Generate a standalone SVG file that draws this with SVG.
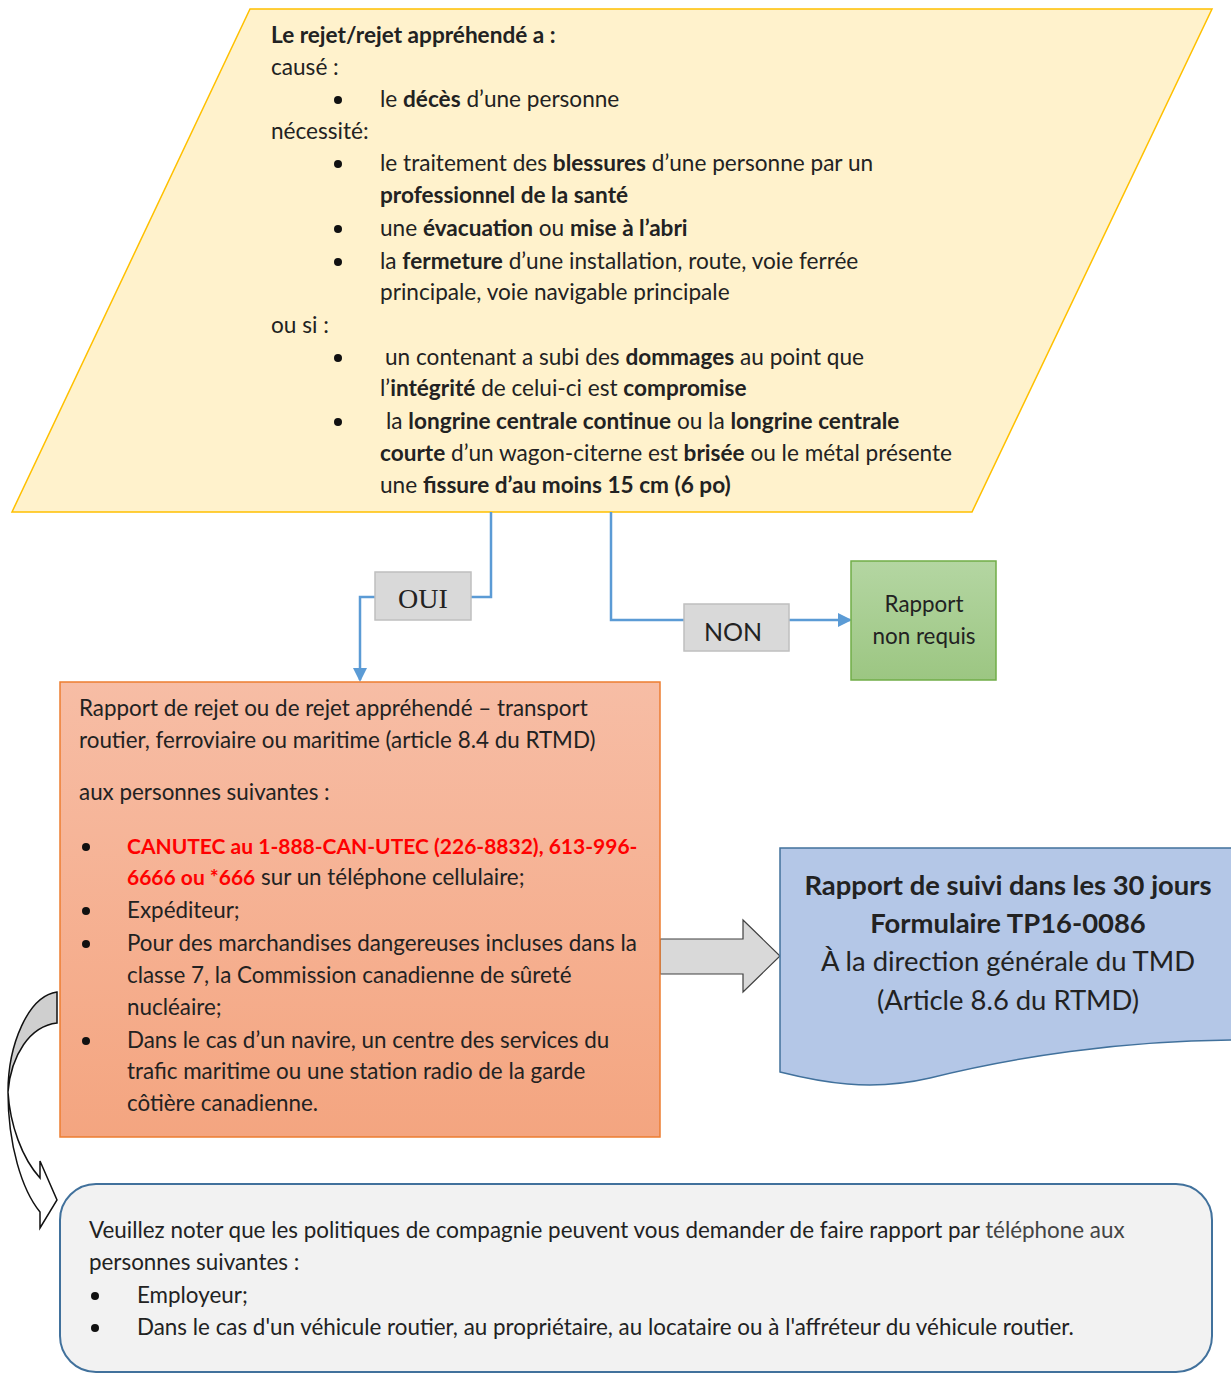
<svg xmlns="http://www.w3.org/2000/svg" width="1231" height="1374" viewBox="0 0 1231 1374">
<defs>
<style>
text{font-family:Lato,"Open Sans","Liberation Sans",sans-serif;fill:#222;}
.t20{font-size:22.6px;}
.t21{font-size:22.4px;}
.tn{font-size:22.4px;}
.b{font-weight:bold;}
.red{fill:#FF0000;font-weight:bold;font-size:21px;}
.conn{fill:none;stroke:#5B9BD5;stroke-width:2.5;}
.lbl{fill:#D9D9D9;stroke:#BFBFBF;stroke-width:1.5;}
.dot{fill:#111;}
</style>
<linearGradient id="gGreen" x1="0" y1="0" x2="0" y2="1"><stop offset="0" stop-color="#B4D6A2"/><stop offset="1" stop-color="#9CC682"/></linearGradient>
<linearGradient id="gOrange" x1="0" y1="0" x2="0" y2="1"><stop offset="0" stop-color="#F7BDA5"/><stop offset="1" stop-color="#F4A580"/></linearGradient>
<marker id="ah" markerWidth="14" markerHeight="14" refX="12" refY="7" orient="auto" markerUnits="userSpaceOnUse"><path d="M0,0 L14,7 L0,14 Z" fill="#5B9BD5"/></marker>
</defs>

<g id="decision">
<polygon points="250,9 1212,9 972,512 12,512" fill="#FFF2CC" stroke="#FFC000" stroke-width="1.5"/>
<g class="t20">
<text x="271" y="43" class="b">Le rejet/rejet appréhendé a :</text>
<text x="271" y="75">causé :</text>
<circle class="dot" cx="338" cy="100" r="4"/>
<text x="380" y="107">le <tspan class="b">décès</tspan> d’une personne</text>
<text x="271" y="139">nécessité:</text>
<circle class="dot" cx="338" cy="164" r="4"/>
<text x="380" y="171">le traitement des <tspan class="b">blessures</tspan> d’une personne par un</text>
<text x="380" y="203" class="b">professionnel de la santé</text>
<circle class="dot" cx="338" cy="229" r="4"/>
<text x="380" y="236">une <tspan class="b">évacuation</tspan> ou <tspan class="b">mise à l’abri</tspan></text>
<circle class="dot" cx="338" cy="262" r="4"/>
<text x="380" y="269">la <tspan class="b">fermeture</tspan> d’une installation, route, voie ferrée</text>
<text x="380" y="300">principale, voie navigable principale</text>
<text x="271" y="333">ou si :</text>
<circle class="dot" cx="338" cy="358" r="4"/>
<text x="385" y="365">un contenant a subi des <tspan class="b">dommages</tspan> au point que</text>
<text x="380" y="396">l’<tspan class="b">intégrité</tspan> de celui-ci est <tspan class="b">compromise</tspan></text>
<circle class="dot" cx="338" cy="422" r="4"/>
<text x="386" y="429">la <tspan class="b">longrine centrale continue</tspan> ou la <tspan class="b">longrine centrale</tspan></text>
<text x="380" y="461"><tspan class="b">courte</tspan> d’un wagon-citerne est <tspan class="b">brisée</tspan> ou le métal présente</text>
<text x="380" y="493">une <tspan class="b">fissure d’au moins 15 cm (6 po)</tspan></text>
</g>
</g>

<g id="connectors">
<polyline class="conn" points="491,512 491,597 471,597"/>
<polyline class="conn" points="375,597 360,597 360,680" marker-end="url(#ah)"/>
<polyline class="conn" points="611,512 611,620 684,620"/>
<polyline class="conn" points="789,620 850,620" marker-end="url(#ah)"/>
<path d="M660,939 H743 V920 L780,956 L743,992 V974 H660 Z" fill="#D9D9D9" stroke="#404040" stroke-width="1.2"/>
<path d="M57,992 C28,996 8,1045 8,1092 C11,1055 30,1026 57,1023 Z" fill="#CFCFCF" stroke="#111" stroke-width="1.5"/>
<path d="M8,1092 C8,1145 22,1190 40,1212 L40,1228 L57,1200 L40,1161 L40,1178 C22,1158 10,1125 8,1092 Z" fill="#FFFFFF" stroke="#111" stroke-width="1.5"/>
</g>

<g id="label-oui">
<rect class="lbl" x="375" y="572" width="96" height="48"/>
<text x="423" y="608" text-anchor="middle" style="font-family:'Liberation Serif',serif;font-size:28px">OUI</text>
</g>
<g id="label-non">
<rect class="lbl" x="684" y="604" width="105" height="47"/>
<text x="733" y="641" text-anchor="middle" style="font-size:25px">NON</text>
</g>

<g id="node-nonrequis">
<rect x="851" y="561" width="145" height="119" fill="url(#gGreen)" stroke="#70AD47" stroke-width="1.5"/>
<text x="924" y="612" text-anchor="middle" class="tn">Rapport</text>
<text x="924" y="644" text-anchor="middle" class="tn">non requis</text>
</g>

<g id="node-rapport">
<rect x="60" y="682" width="600" height="455" fill="url(#gOrange)" stroke="#ED7D31" stroke-width="1.5"/>
<g class="t21">
<text x="79" y="716">Rapport de rejet ou de rejet appréhendé – transport</text>
<text x="79" y="748">routier, ferroviaire ou maritime (article 8.4 du RTMD)</text>
<text x="79" y="800">aux personnes suivantes :</text>
<circle class="dot" cx="86" cy="847" r="4"/>
<text x="127" y="854" class="red">CANUTEC au 1-888-CAN-UTEC (226-8832), 613-996-</text>
<text x="127" y="885"><tspan class="red">6666 ou *666</tspan> sur un téléphone cellulaire;</text>
<circle class="dot" cx="86" cy="911" r="4"/>
<text x="127" y="918">Expéditeur;</text>
<circle class="dot" cx="86" cy="944" r="4"/>
<text x="127" y="951">Pour des marchandises dangereuses incluses dans la</text>
<text x="127" y="983">classe 7, la Commission canadienne de sûreté</text>
<text x="127" y="1015">nucléaire;</text>
<circle class="dot" cx="86" cy="1041" r="4"/>
<text x="127" y="1048">Dans le cas d’un navire, un centre des services du</text>
<text x="127" y="1079">trafic maritime ou une station radio de la garde</text>
<text x="127" y="1111">côtière canadienne.</text>
</g>
</g>

<g id="node-suivi">
<path d="M780,848 H1240 V1040 C1120,1040 1010,1058 930,1078 C870,1092 820,1082 780,1072 Z" fill="#B4C7E7" stroke="#41719C" stroke-width="1.5"/>
<g style="font-size:27.4px" text-anchor="middle">
<text x="1008" y="895" class="b">Rapport de suivi dans les 30 jours</text>
<text x="1008" y="933" class="b">Formulaire TP16-0086</text>
<text x="1008" y="971">À la direction générale du TMD</text>
<text x="1008" y="1010">(Article 8.6 du RTMD)</text>
</g>
</g>

<g id="node-note">
<rect x="60" y="1184" width="1152" height="188" rx="36" ry="36" fill="#F2F2F2" stroke="#41719C" stroke-width="2"/>
<g style="font-size:22.4px">
<text x="89" y="1238">Veuillez noter que les politiques de compagnie peuvent vous demander de faire rapport par <tspan fill="#444">téléphone aux</tspan></text>
<text x="89" y="1270">personnes suivantes :</text>
<circle class="dot" cx="95" cy="1296" r="4"/>
<text x="137" y="1303">Employeur;</text>
<circle class="dot" cx="95" cy="1328" r="4"/>
<text x="137" y="1335">Dans le cas d'un véhicule routier, au propriétaire, au locataire ou à l'affréteur du véhicule routier.</text>
</g>
</g>
</svg>
